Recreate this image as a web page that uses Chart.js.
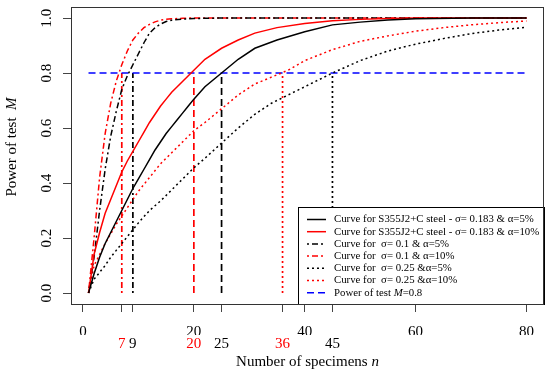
<!DOCTYPE html>
<html>
<head>
<meta charset="utf-8">
<script src="https://cdn.jsdelivr.net/npm/chart.js@4.4.1/dist/chart.umd.min.js"></script>
<style>
  body { margin: 0; background: #fff; }
  canvas { display: block; }
</style>
</head>
<body>
<canvas id="powerChart" width="550" height="377"></canvas>
<script>
// Power of test M against number of specimens n
const nSteel = [1, 2, 3, 4, 5, 6, 7, 8, 9, 10, 11, 12, 13, 14, 15, 16, 17, 18, 19, 20, 22, 25, 28, 31, 35, 40, 45, 50, 55, 60, 70, 80];
const powerSteel5 = [0, 0.07, 0.13, 0.18, 0.22, 0.26, 0.30, 0.34, 0.38, 0.415, 0.45, 0.485, 0.52, 0.55, 0.58, 0.605, 0.63, 0.655, 0.68, 0.705, 0.75, 0.80, 0.85, 0.89, 0.92, 0.95, 0.975, 0.985, 0.993, 0.997, 1, 1];
const powerSteel10 = [0, 0.14, 0.22, 0.29, 0.34, 0.39, 0.44, 0.48, 0.515, 0.55, 0.585, 0.62, 0.65, 0.68, 0.705, 0.73, 0.75, 0.77, 0.79, 0.81, 0.85, 0.89, 0.92, 0.945, 0.965, 0.98, 0.99, 0.995, 0.998, 1, 1, 1];

const nSigma01 = [1, 2, 3, 4, 5, 6, 7, 8, 9, 10, 11, 12, 13, 14, 15, 16, 18, 20, 25, 30, 40, 60, 80];
const powerSigma01a5 = [0, 0.13, 0.30, 0.45, 0.57, 0.66, 0.74, 0.79, 0.83, 0.87, 0.91, 0.945, 0.965, 0.978, 0.987, 0.992, 0.996, 0.998, 1, 1, 1, 1, 1];
const powerSigma01a10 = [0, 0.20, 0.42, 0.58, 0.69, 0.77, 0.83, 0.88, 0.92, 0.945, 0.965, 0.977, 0.986, 0.992, 0.995, 0.997, 0.999, 1, 1, 1, 1, 1, 1];

const nSigma025 = [1, 2, 3, 4, 5, 6, 7, 8, 9, 10, 12, 14, 16, 18, 20, 22, 25, 28, 31, 34, 37, 40, 45, 50, 55, 60, 65, 70, 75, 80];
const powerSigma025a5 = [0, 0.05, 0.075, 0.10, 0.13, 0.155, 0.18, 0.205, 0.23, 0.255, 0.30, 0.335, 0.375, 0.415, 0.455, 0.49, 0.545, 0.60, 0.65, 0.69, 0.72, 0.75, 0.80, 0.845, 0.88, 0.905, 0.925, 0.943, 0.956, 0.966];
const powerSigma025a10 = [0, 0.10, 0.14, 0.18, 0.215, 0.25, 0.28, 0.31, 0.34, 0.37, 0.42, 0.47, 0.51, 0.55, 0.59, 0.62, 0.67, 0.72, 0.76, 0.785, 0.81, 0.845, 0.885, 0.915, 0.935, 0.952, 0.965, 0.975, 0.983, 0.989];

const targetPower = 0.8;
const targetRange = [1, 80];
// n where each curve reaches M = 0.8
const requiredN = [7, 9, 20, 25, 36, 45];

const xTicks = [0, 7, 9, 20, 25, 36, 40, 45, 60, 80];
const xLabelsTop = [0, 20, 40, 60, 80];
const xLabelsBottom = [7, 9, 20, 25, 36, 45];
const xLabelsBottomColors = ['red', 'black', 'red', 'black', 'red', 'black'];
const yTicks = [0, 0.2, 0.4, 0.6, 0.8, 1.0];

const FONT = 'Liberation Serif';
const SOLID = [];
const DASHED = [7, 4];
const DOTDASH = [2, 3, 6, 3];
const DOTTED = [2, 3];

const toPoints = (xs, ys) => xs.map((x, i) => ({ x: x, y: ys[i] }));

const curves = [
  { label: 'steel5', data: toPoints(nSteel, powerSteel5), borderColor: 'black', borderDash: SOLID },
  { label: 'steel10', data: toPoints(nSteel, powerSteel10), borderColor: 'red', borderDash: SOLID },
  { label: 's01a5', data: toPoints(nSigma01, powerSigma01a5), borderColor: 'black', borderDash: DOTDASH },
  { label: 's01a10', data: toPoints(nSigma01, powerSigma01a10), borderColor: 'red', borderDash: DOTDASH },
  { label: 's025a5', data: toPoints(nSigma025, powerSigma025a5), borderColor: 'black', borderDash: DOTTED },
  { label: 's025a10', data: toPoints(nSigma025, powerSigma025a10), borderColor: 'red', borderDash: DOTTED },
  { label: 'target', data: targetRange.map(n => ({ x: n, y: targetPower })), borderColor: 'blue', borderDash: DASHED }
];

// vertical drop lines, same colour/type as the curve they belong to
const verticalStyles = [
  { color: 'red', dash: DOTDASH },
  { color: 'black', dash: DOTDASH },
  { color: 'red', dash: DASHED },
  { color: 'black', dash: DASHED },
  { color: 'red', dash: DOTTED },
  { color: 'black', dash: DOTTED }
];
const verticals = requiredN.map((n, i) => ({
  label: 'n=' + n,
  data: [{ x: n, y: 0 }, { x: n, y: targetPower }],
  borderColor: verticalStyles[i].color,
  borderDash: verticalStyles[i].dash,
  borderWidth: 1.7
}));

const datasets = curves.map(c => Object.assign({ borderWidth: 1.5 }, c)).concat(verticals);

// legend text, [text, italic] pieces
const legendEntries = [
  { ds: 0, text: [['Curve for S355J2+C steel - \u03c3= 0.183 & \u03b1=5%', false]] },
  { ds: 1, text: [['Curve for S355J2+C steel - \u03c3= 0.183 & \u03b1=10%', false]] },
  { ds: 2, text: [['Curve for  \u03c3= 0.1 & \u03b1=5%', false]] },
  { ds: 3, text: [['Curve for  \u03c3= 0.1 & \u03b1=10%', false]] },
  { ds: 4, text: [['Curve for  \u03c3= 0.25 &\u03b1=5%', false]] },
  { ds: 5, text: [['Curve for  \u03c3= 0.25 &\u03b1=10%', false]] },
  { ds: 6, text: [['Power of test ', false], ['M', true], ['=0.8', false]] }
];
const xTitle = [['Number of specimens ', false], ['n', true]];
const yTitle = [['Power of test  ', false], ['M', true]];

function drawRich(ctx, parts, x, y, align, size) {
  const fonts = parts.map(p => (p[1] ? 'italic ' : '') + size + 'px "' + FONT + '"');
  let total = 0;
  parts.forEach((p, i) => { ctx.font = fonts[i]; total += ctx.measureText(p[0]).width; });
  let cx = align === 'center' ? x - total / 2 : x;
  ctx.textBaseline = 'middle';
  ctx.textAlign = 'left';
  ctx.fillStyle = '#000';
  parts.forEach((p, i) => {
    ctx.font = fonts[i];
    ctx.fillText(p[0], cx, y);
    cx += ctx.measureText(p[0]).width;
  });
}

const framePlugin = {
  id: 'frame',
  afterDatasetsDraw(chart) {
    const { ctx, chartArea: a } = chart;
    ctx.save();
    // legend inside the plot, bottom right
    const w = 246, h = 97;
    const x0 = a.right - w, y0 = a.bottom - h;
    ctx.fillStyle = '#fff';
    ctx.fillRect(x0, y0, w, h);
    ctx.strokeStyle = '#000';
    ctx.lineWidth = 1;
    ctx.strokeRect(Math.round(x0) + 0.5, Math.round(y0) + 0.5, w, h);
    legendEntries.forEach((e, i) => {
      const ds = chart.data.datasets[e.ds];
      const y = y0 + 12.5 + i * 12.2;
      ctx.beginPath();
      ctx.setLineDash(ds.borderDash);
      ctx.strokeStyle = ds.borderColor;
      ctx.lineWidth = ds.borderWidth;
      ctx.moveTo(x0 + 9, y);
      ctx.lineTo(x0 + 28, y);
      ctx.stroke();
      ctx.setLineDash([]);
      drawRich(ctx, e.text, x0 + 36, y, 'left', 10.8);
    });
    // box around plot region
    ctx.strokeStyle = '#333';
    ctx.lineWidth = 1;
    ctx.strokeRect(Math.round(a.left) + 0.5, Math.round(a.top) + 0.5, Math.round(a.width) - 1, Math.round(a.height));
    ctx.restore();
  },
  afterDraw(chart) {
    const { ctx, chartArea: a } = chart;
    ctx.save();
    drawRich(ctx, xTitle, (a.left + a.right) / 2, 362, 'center', 15);
    ctx.translate(12, 147);
    ctx.rotate(-Math.PI / 2);
    drawRich(ctx, yTitle, 0, 0, 'center', 15);
    ctx.restore();
  }
};

const zeroPad = (scale) => {
  scale.paddingTop = 0; scale.paddingBottom = 0;
  scale.paddingLeft = 0; scale.paddingRight = 0;
};

new Chart(document.getElementById('powerChart'), {
  type: 'line',
  data: { datasets: datasets },
  options: {
    responsive: false,
    animation: false,
    layout: { padding: { left: 0, right: 6, top: 7, bottom: 0 } },
    elements: { point: { radius: 0 }, line: { tension: 0, fill: false } },
    plugins: { legend: { display: false }, tooltip: { enabled: false } },
    scales: {
      x: {
        type: 'linear',
        min: -2.16,
        max: 83.16,
        weight: 0,
        afterBuildTicks: (axis) => { axis.ticks = xTicks.map(v => ({ value: v })); },
        afterFit: (axis) => { axis.height = 31; zeroPad(axis); },
        grid: { drawOnChartArea: false, drawTicks: true, tickLength: 8, color: '#444' },
        border: { display: false },
        ticks: {
          autoSkip: false, maxRotation: 0, padding: 11, color: '#000',
          font: { family: FONT, size: 15 },
          callback: (v) => (xLabelsTop.includes(v) ? String(v) : '')
        }
      },
      x2: {
        type: 'linear',
        position: 'bottom',
        min: -2.16,
        max: 83.16,
        weight: 1,
        afterBuildTicks: (axis) => { axis.ticks = xLabelsBottom.map(v => ({ value: v })); },
        afterFit: (axis) => { axis.height = 42; zeroPad(axis); },
        grid: { display: false, drawTicks: false },
        border: { display: false },
        ticks: {
          autoSkip: false, maxRotation: 0, padding: 0,
          font: { family: FONT, size: 15 },
          color: (c) => xLabelsBottomColors[c.index],
          callback: (v) => String(v)
        }
      },
      y: {
        type: 'linear',
        min: -0.04,
        max: 1.04,
        afterBuildTicks: (axis) => { axis.ticks = yTicks.map(v => ({ value: v })); },
        afterFit: (axis) => { axis.width = 71; zeroPad(axis); },
        grid: { drawOnChartArea: false, drawTicks: true, tickLength: 8, color: '#444' },
        border: { display: false },
        ticks: {
          autoSkip: false, minRotation: 90, maxRotation: 90, crossAlign: 'center', padding: 7,
          color: '#000',
          font: { family: FONT, size: 15 },
          callback: (v) => v.toFixed(1)
        }
      }
    }
  },
  plugins: [framePlugin]
});
</script>
</body>
</html>
